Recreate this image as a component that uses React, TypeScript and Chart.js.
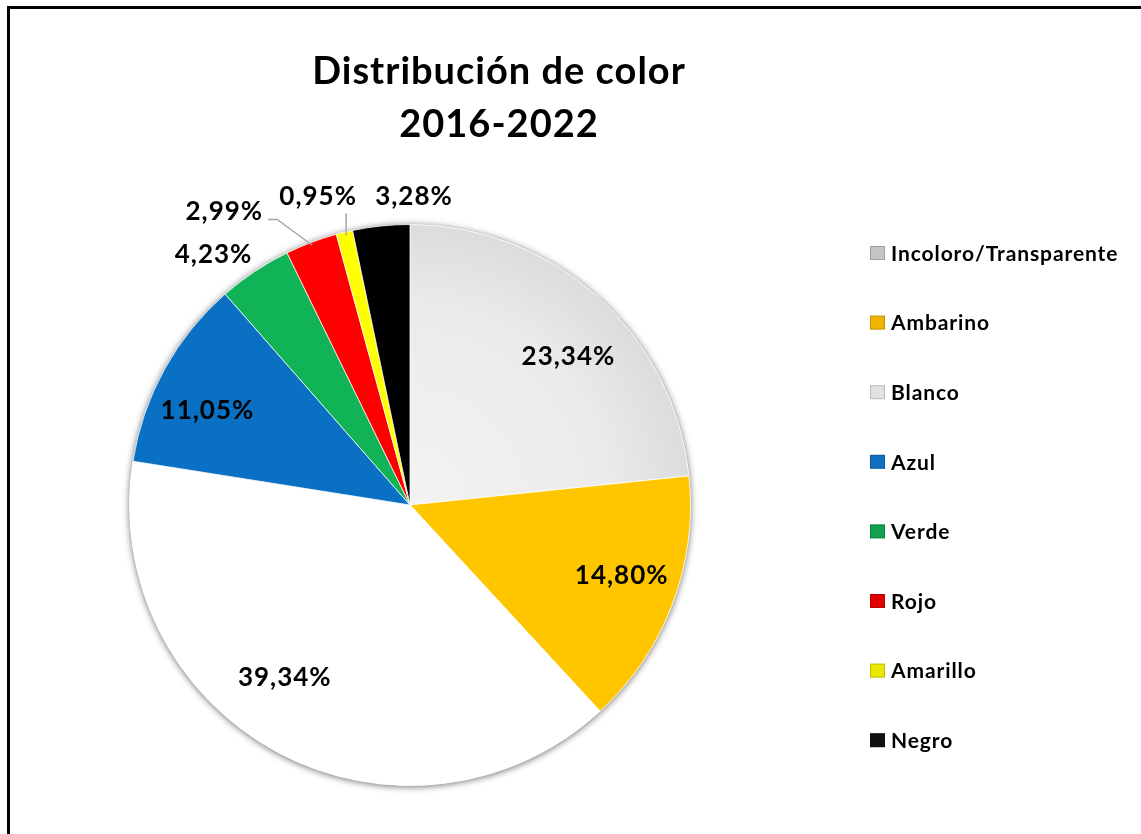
import React, { useEffect, useRef } from 'react';
import { Chart, registerables } from 'chart.js';
Chart.register(...registerables);

const categories = ['Incoloro/Transparente', 'Ambarino', 'Blanco', 'Azul', 'Verde', 'Rojo', 'Amarillo', 'Negro'];
const values = [23.34, 14.80, 39.34, 11.05, 4.23, 2.99, 0.95, 3.28];
const sliceColors = ['#e6e6e6', '#ffc600', '#ffffff', '#0a70c4', '#10b456', '#ff0000', '#ffff00', '#000000'];
const legendColors = ['#c4c4c4', '#f0b400', '#e2e2e2', '#1070c0', '#10a050', '#e00000', '#e8e800', '#111111'];
const titleLines = ['Distribución de color', '2016-2022'];

// label placement (style only)
const labelOutside = [false, false, false, false, true, true, true, true];
const labelNudge = [[12, 14], [7, -7], [-22, -20], [-11, 11], [-24, 9], [-76, -2], [-19, -6], [36, 1]];
const leaderKind = ['', '', '', '', '', 'elbow', 'vertical', ''];

const W = 1141;
const H = 834;
const FONT = 'Lato, "Open Sans", "DejaVu Sans", sans-serif';

const fmt = (v: number) => v.toFixed(2).replace('.', ',') + '%';

const decor = {
  id: 'decor',
  beforeDatasetsDraw(chart: any) {
    const ctx = chart.ctx;
    const arc = chart.getDatasetMeta(0).data[0] as any;
    if (!arc) return;
    ctx.save();
    ctx.shadowColor = 'rgba(0,0,0,0.6)';
    ctx.shadowBlur = 7;
    ctx.shadowOffsetX = 0;
    ctx.shadowOffsetY = 1;
    ctx.beginPath();
    ctx.arc(arc.x, arc.y, arc.outerRadius, 0, Math.PI * 2);
    ctx.fillStyle = '#ffffff';
    ctx.fill();
    ctx.restore();
  },
  afterDatasetsDraw(chart: any) {
    const ctx = chart.ctx;
    const meta = chart.getDatasetMeta(0);
    ctx.save();
    // title
    ctx.fillStyle = '#000';
    ctx.textAlign = 'center';
    ctx.textBaseline = 'middle';
    ctx.font = `bold 38px ${FONT}`;
    (ctx as any).letterSpacing = '1px';
    ctx.fillText(titleLines[0], 499, 72);
    ctx.fillText(titleLines[1], 499, 125);

    // data labels
    ctx.font = `bold 26px ${FONT}`;
    (ctx as any).letterSpacing = '1px';
    meta.data.forEach((el: any, i: number) => {
      const mid = (el.startAngle + el.endAngle) / 2;
      const r = el.outerRadius;
      const d = labelOutside[i] ? r + 31 : r * 0.78;
      const lx = el.x + Math.cos(mid) * d + labelNudge[i][0];
      const ly = el.y + Math.sin(mid) * d + labelNudge[i][1];
      const text = fmt(values[i]);
      const tw = ctx.measureText(text).width;
      if (leaderKind[i]) {
        ctx.save();
        ctx.strokeStyle = '#a6a6a6';
        ctx.lineWidth = 1.5;
        ctx.beginPath();
        const ax = el.x + Math.cos(mid) * (r - 3);
        const ay = el.y + Math.sin(mid) * (r - 3);
        if (leaderKind[i] === 'elbow') {
          const sx = lx + tw / 2 + 5;
          const sy = ly + 8;
          ctx.moveTo(sx, sy);
          ctx.lineTo(sx + 9, sy);
          ctx.lineTo(ax, ay);
        } else {
          const sx = ax + 1;
          ctx.moveTo(sx, ly + 17);
          ctx.lineTo(sx, ay);
        }
        ctx.stroke();
        ctx.restore();
      }
      ctx.fillStyle = '#000';
      ctx.textAlign = 'center';
      ctx.textBaseline = 'middle';
      ctx.fillText(text, lx, ly);
    });

    // legend
    ctx.font = `bold 21px ${FONT}`;
    (ctx as any).letterSpacing = '0.9px';
    ctx.textAlign = 'left';
    ctx.textBaseline = 'middle';
    categories.forEach((c, i) => {
      const cy = 253 + i * 69.6;
      const sx = 870;
      const sy = cy - 7;
      ctx.fillStyle = legendColors[i];
      ctx.fillRect(sx, sy, 15, 14);
      ctx.strokeStyle = 'rgba(0,0,0,0.18)';
      ctx.lineWidth = 1;
      ctx.strokeRect(sx + 0.5, sy + 0.5, 14, 13);
      ctx.fillStyle = '#000';
      ctx.fillText(c, 891, cy + 1);
    });
    ctx.restore();
  },
};

export default function App() {
  const ref = useRef<HTMLCanvasElement | null>(null);
  useEffect(() => {
    if (!ref.current) return;
    const chart = new Chart(ref.current, {
      type: 'pie',
      data: {
        labels: categories,
        datasets: [
          {
            data: values,
            backgroundColor: (c: any) => {
              const i = c.dataIndex;
              if (i === 0 && c.chart.chartArea) {
                const a = c.chart.chartArea;
                const cx = (a.left + a.right) / 2;
                const cy = (a.top + a.bottom) / 2;
                const rr = (a.right - a.left) / 2;
                const g = c.chart.ctx.createRadialGradient(cx, cy, 0, cx, cy, rr);
                g.addColorStop(0, '#f3f3f3');
                g.addColorStop(0.7, '#ebebeb');
                g.addColorStop(1, '#dcdcdc');
                return g;
              }
              return sliceColors[i];
            },
            borderColor: 'rgba(255,255,255,0.75)',
            borderWidth: 1,
          },
        ],
      },
      options: {
        responsive: false,
        devicePixelRatio: 1,
        animation: false,
        layout: { padding: { left: 129, right: 450, top: 224, bottom: 48 } },
        plugins: {
          legend: { display: false },
          title: { display: false },
          tooltip: { enabled: false },
        },
      },
      plugins: [decor],
    } as any);
    return () => chart.destroy();
  }, []);

  return (
    <div style={{ position: 'fixed', left: 0, top: 0, width: W, height: H, overflow: 'hidden', background: '#fff' }}>
      <canvas ref={ref} width={W} height={H} style={{ position: 'absolute', left: 0, top: 0, width: W, height: H }} />
      <div
        style={{
          position: 'absolute',
          left: 7,
          top: 6,
          width: W + 50,
          height: H + 50,
          borderTop: '3px solid #000',
          borderLeft: '3px solid #000',
          pointerEvents: 'none',
        }}
      />
    </div>
  );
}
